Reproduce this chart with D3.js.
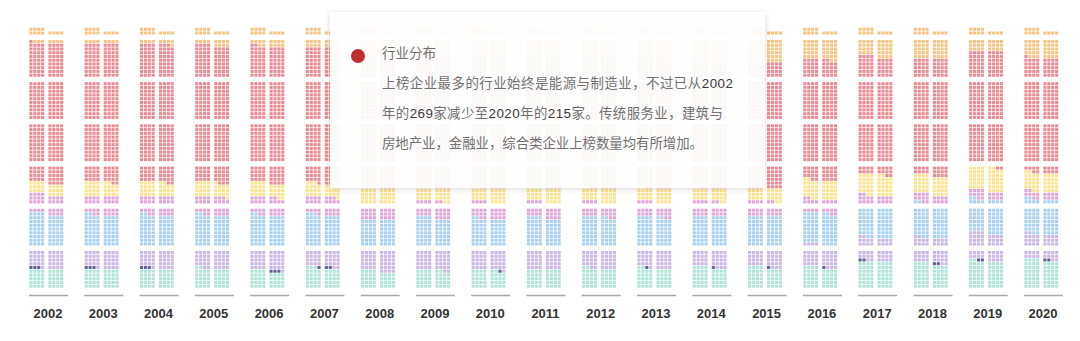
<!DOCTYPE html>
<html>
<head>
<meta charset="utf-8">
<script src="https://cdn.jsdelivr.net/npm/d3@7"></script>
<style>
  body { margin: 0; background: #fff; }
  text { font-family: "Noto Sans CJK SC", "Noto Sans", sans-serif; }
</style>
</head>
<body>
<svg id="chart"></svg>
<script>
// years shown along the bottom
const years = [2002, 2003, 2004, 2005, 2006, 2007, 2008, 2009, 2010, 2011,
               2012, 2013, 2014, 2015, 2016, 2017, 2018, 2019, 2020];

// companies per industry and year (stacked bottom -> top)
const teal     = [40, 40, 40, 42, 36, 43, 36, 38, 38, 40, 42, 42, 44, 44, 44, 56, 52, 58, 60];
const navy     = [3, 3, 3, 0, 3, 3, 0, 0, 1, 0, 0, 1, 1, 1, 1, 2, 2, 2, 2];
const lavender = [37, 37, 37, 38, 41, 34, 44, 42, 41, 40, 38, 37, 35, 35, 39, 40, 44, 48, 44];
const blue     = [68, 66, 66, 66, 66, 67, 56, 60, 58, 60, 62, 62, 64, 64, 66, 62, 64, 62, 64];
const pink     = [32, 30, 30, 29, 28, 28, 24, 26, 26, 24, 22, 22, 22, 22, 20, 18, 18, 18, 16];
const yellow   = [24, 30, 30, 30, 30, 28, 36, 30, 30, 32, 30, 30, 28, 26, 40, 44, 40, 50, 40];
const red      = [269, 266, 265, 263, 262, 260, 255, 252, 250, 248, 246, 244, 240, 240, 228, 222, 220, 218, 215];
const orange   = [19, 20, 21, 24, 26, 29, 41, 44, 48, 48, 52, 54, 58, 60, 54, 48, 52, 36, 51];

const categories = ['其他', '综合类', '交通运输', '金融业', '建筑与房地产业', '传统服务业', '能源与制造业', '信息技术'];
const series = [teal, navy, lavender, blue, pink, yellow, red, orange];
const colors = ['#aee3d8', '#5f6292', '#c9b6e3', '#a6cff2', '#dfa3d6', '#fce38f', '#ea8990', '#f6c383'];

const w = 1080;
const h = 341;

const svg = d3.select('#chart')
  .attr('width', w)
  .attr('height', h);

const defs = svg.append('defs');
defs.append('filter')
  .attr('id', 'shadow')
  .attr('x', '-10%').attr('y', '-10%').attr('width', '120%').attr('height', '130%')
  .append('feDropShadow')
  .attr('dx', 0).attr('dy', 1)
  .attr('stdDeviation', 3)
  .attr('flood-color', '#000')
  .attr('flood-opacity', 0.16);

const xScale = d3.scalePoint()
  .domain(years)
  .range([48, 1043]);

const perCol = 4;             // dots per row in one column
const perRow = perCol * 2;    // two columns per year
const rowsPerBlock = 10;

const colX = d3.scaleLinear().domain([0, perCol]).range([0, 15.6]);
const rowY = d3.scaleLinear().domain([0, rowsPerBlock]).range([0, 37.5]);
const blockY = d3.scaleLinear().domain([0, 1]).range([288, 245.8]);

// one dot per company
const dots = [];
years.forEach((year, yi) => {
  let k = 0;
  series.forEach((s, ci) => {
    for (let n = 0; n < s[yi]; n++) {
      dots.push({ year: year, cat: ci, k: k });
      k++;
    }
  });
});

const dotX = (d) => {
  const c = d.k % perRow;
  const side = c < perCol ? 0 : 1;
  return xScale(d.year) - 19 + side * 19 + colX(c % perCol) + 0.4;
};
const dotY = (d) => {
  const r = Math.floor(d.k / perRow);
  const b = Math.floor(r / rowsPerBlock);
  return blockY(b) - rowY(r % rowsPerBlock) - 3.3;
};

svg.append('g')
  .selectAll('rect')
  .data(dots)
  .enter()
  .append('rect')
  .attr('x', dotX)
  .attr('y', dotY)
  .attr('width', 3.1)
  .attr('height', 3.0)
  .attr('fill', (d) => colors[d.cat]);

// year axis: underline + label
const axis = svg.append('g');
axis.selectAll('line')
  .data(years)
  .enter()
  .append('line')
  .attr('x1', (d) => xScale(d) - 19)
  .attr('x2', (d) => xScale(d) + 20)
  .attr('y1', 295.5)
  .attr('y2', 295.5)
  .attr('stroke', '#a8a8a8')
  .attr('stroke-width', 1.6);

axis.selectAll('text')
  .data(years)
  .enter()
  .append('text')
  .attr('x', (d) => xScale(d))
  .attr('y', 318)
  .attr('text-anchor', 'middle')
  .style('font-family', '"Liberation Sans", Arial, sans-serif')
  .style('font-weight', 'bold')
  .style('font-size', '13px')
  .attr('fill', '#333')
  .text((d) => d);

// tooltip panel
const tip = svg.append('g');
tip.append('rect')
  .attr('x', 330)
  .attr('y', 12)
  .attr('width', 435)
  .attr('height', 176)
  .attr('fill', '#fff')
  .attr('fill-opacity', 0.93)
  .attr('filter', 'url(#shadow)');

tip.append('circle')
  .attr('cx', 358)
  .attr('cy', 56)
  .attr('r', 7)
  .attr('fill', '#bf2e2a');

tip.append('text')
  .attr('x', 382)
  .attr('y', 58)
  .style('font-size', '13.5px')
  .attr('fill', '#707070')
  .text('行业分布');

const lines = [
  { y: 88, len: 351, parts: [['上榜企业最多的行业始终是能源与制造业，不过已从', 0], ['2002', 1]] },
  { y: 118, len: 341, parts: [['年的', 0], ['269', 1], ['家减少至', 0], ['2020', 1], ['年的', 0], ['215', 1], ['家。传统服务业，建筑与', 0]] },
  { y: 148, len: 321, parts: [['房地产业，金融业，综合类企业上榜数量均有所增加。', 0]] }
];

lines.forEach((l) => {
  const t = tip.append('text')
    .attr('x', 382)
    .attr('y', l.y)
    .attr('textLength', l.len)
    .attr('lengthAdjust', 'spacing')
    .style('font-size', '13.4px')
    .attr('fill', '#707070');
  l.parts.forEach((p) => {
    const s = t.append('tspan').text(p[0]);
    if (p[1]) {
      s.style('font-family', '"Liberation Sans", Arial, sans-serif')
        .attr('fill', '#3a3a3a');
    }
  });
});
</script>
</body>
</html>
